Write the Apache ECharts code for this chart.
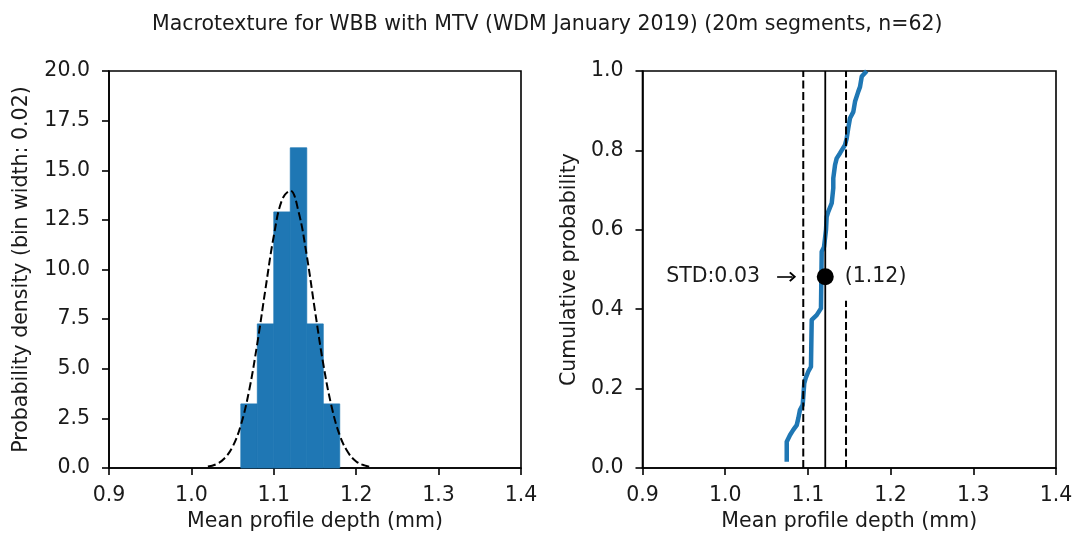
<!DOCTYPE html>
<html>
<head>
<meta charset="utf-8">
<title>Macrotexture</title>
<script src="https://cdn.jsdelivr.net/npm/echarts@6/dist/echarts.min.js"></script>
<style>
  html, body { margin: 0; padding: 0; background: #fff; }
  #chart { width: 1078px; height: 537px; }
</style>
</head>
<body>
<div id="chart"></div>
<script>
// ---- data ----
const binEdges = [1.06, 1.08, 1.10, 1.12, 1.14, 1.16, 1.18];
const density  = [3.23, 7.26, 12.90, 16.13, 7.26, 3.23];

// fitted normal curve (dashed)
const fitX = [1.02, 1.03, 1.04, 1.05, 1.06, 1.07, 1.08, 1.09, 1.10, 1.11, 1.12,
              1.13, 1.14, 1.15, 1.16, 1.17, 1.18, 1.19, 1.20, 1.21, 1.22];
const fitY = [0.07, 0.19, 0.48, 1.07, 2.16, 3.89, 6.28, 9.05, 11.69, 13.51, 13.97,
              12.92, 10.70, 7.92, 5.25, 3.12, 1.65, 0.79, 0.33, 0.13, 0.04];

// empirical CDF vertices
const cdfX = [1.0744, 1.0744, 1.0784, 1.0823, 1.0865, 1.0884, 1.0904, 1.0937, 1.0956,
              1.0973, 1.1005, 1.1037, 1.1046, 1.1106, 1.1158, 1.1167, 1.1195, 1.1219,
              1.1227, 1.1247, 1.1288, 1.1307, 1.1307, 1.1328, 1.1348, 1.1388, 1.1449,
              1.1469, 1.1488, 1.1509, 1.1549, 1.1570, 1.1609, 1.1630, 1.1651, 1.1711];
const cdfY = [0.016, 0.066, 0.083, 0.096, 0.108, 0.125, 0.146, 0.159, 0.213,
              0.226, 0.243, 0.255, 0.373, 0.385, 0.402, 0.545, 0.557, 0.600,
              0.633, 0.646, 0.667, 0.705, 0.730, 0.763, 0.780, 0.793, 0.814,
              0.830, 0.856, 0.881, 0.897, 0.923, 0.948, 0.960, 0.986, 1.000];

const meanVal = 1.121;   // solid line + dot
const stdLo = 1.0944;    // dashed lines (mean -/+ std)
const stdHi = 1.1461;
const dotP = 0.482;
const meanText = "(1.12)";
const stdText = "STD:0.03";
const arrowFrom = 1.0628;
const arrowTo = 1.0815;
const stdTextX = 1.0421;

const BLUE = "#1f77b4";
const TXT = "#1a1a1a";
const FONT = "DejaVu Sans";
const FS = 20.5;

const chart = echarts.init(document.getElementById("chart"), null, { renderer: "canvas" });

function xAxis(gridIndex) {
  return {
    type: "value",
    gridIndex,
    min: 0.9,
    max: 1.4,
    interval: 0.1,
    name: "Mean profile depth (mm)",
    nameLocation: "middle",
    nameGap: 43,
    nameTextStyle: { fontSize: FS, color: TXT, fontFamily: FONT },
    axisLine: { show: true, onZero: false, lineStyle: { color: "#000", width: 1.6 } },
    axisTick: { show: true, length: 7, lineStyle: { color: "#000", width: 1.6 } },
    axisLabel: { fontSize: FS, color: TXT, fontFamily: FONT, margin: 17,
                 formatter: v => v.toFixed(1) },
    splitLine: { show: false }
  };
}

function yAxis(gridIndex, max, step, name, gap) {
  return {
    type: "value",
    gridIndex,
    min: 0,
    max,
    interval: step,
    name,
    nameLocation: "middle",
    nameGap: gap,
    nameTextStyle: { fontSize: FS, color: TXT, fontFamily: FONT },
    axisLine: { show: true, onZero: false, lineStyle: { color: "#000", width: 1.6 } },
    axisTick: { show: true, length: 7, lineStyle: { color: "#000", width: 1.6 } },
    axisLabel: { fontSize: FS, color: TXT, fontFamily: FONT, margin: 19,
                 formatter: v => v.toFixed(1) },
    splitLine: { show: false }
  };
}

const vline = (x, y0, y1, dashed) => ({
  type: "line",
  xAxisIndex: 1,
  yAxisIndex: 1,
  data: [[x, y0], [x, y1]],
  symbol: "none",
  silent: true,
  z: 3,
  lineStyle: { color: "#000", width: dashed ? 2 : 1.8, type: dashed ? [8, 3.5] : "solid" }
});

chart.setOption({
  animation: false,
  backgroundColor: "#fff",
  textStyle: { fontFamily: FONT },
  title: {
    text: "Macrotexture for WBB with MTV (WDM January 2019) (20m segments, n=62)",
    left: 147,
    top: 9,
    textStyle: { fontSize: FS, fontWeight: "normal", color: TXT, fontFamily: FONT }
  },
  grid: [
    { left: 109, top: 71, width: 412, height: 397, show: true,
      borderColor: "#000", borderWidth: 1.6, backgroundColor: "transparent" },
    { left: 642.5, top: 71, width: 413.5, height: 397, show: true,
      borderColor: "#000", borderWidth: 1.6, backgroundColor: "transparent" }
  ],
  xAxis: [xAxis(0), xAxis(1)],
  yAxis: [
    yAxis(0, 20, 2.5, "Probability density (bin width: 0.02)", 77),
    yAxis(1, 1, 0.2, "Cumulative probability", 62)
  ],
  series: [
    {
      name: "hist",
      type: "custom",
      xAxisIndex: 0,
      yAxisIndex: 0,
      data: density.map((d, i) => [binEdges[i], binEdges[i + 1], d]),
      encode: { x: [0, 1], y: 2 },
      renderItem(params, api) {
        const p0 = api.coord([api.value(0), api.value(2)]);
        const p1 = api.coord([api.value(1), 0]);
        return {
          type: "rect",
          shape: { x: p0[0], y: p0[1], width: p1[0] - p0[0], height: p1[1] - p0[1] },
          style: { fill: BLUE, stroke: BLUE, lineWidth: 0.8 }
        };
      },
      z: 2
    },
    {
      name: "fit",
      type: "line",
      xAxisIndex: 0,
      yAxisIndex: 0,
      data: fitX.map((x, i) => [x, fitY[i]]),
      symbol: "none",
      smooth: 0.4,
      z: 3,
      lineStyle: { color: "#000", width: 2, type: [8, 3.5] }
    },
    {
      name: "cdf",
      type: "line",
      xAxisIndex: 1,
      yAxisIndex: 1,
      data: cdfX.map((x, i) => [x, cdfY[i]]),
      symbol: "none",
      z: 2,
      lineStyle: { color: BLUE, width: 4.5, cap: "butt", join: "round" }
    },
    vline(meanVal, 0, 1, false),
    vline(stdLo, 0, 1, true),
    vline(stdHi, 0, 1, true),
    {
      name: "std-label",
      type: "scatter",
      xAxisIndex: 1,
      yAxisIndex: 1,
      data: [[stdTextX, dotP]],
      symbolSize: 0,
      itemStyle: { color: "#000" },
      silent: true,
      z: 5,
      label: {
        show: true,
        position: "left",
        distance: 0,
        formatter: stdText,
        fontSize: FS,
        color: TXT,
        opacity: 1,
        fontFamily: FONT
      },
      markLine: {
        silent: true,
        symbol: ["none", "path://M0,10 L10,0 L20,10 L17.5,12.5 L10,5 L2.5,12.5 Z"],
        symbolSize: [10, 7],
        label: { show: false },
        lineStyle: { color: "#000", width: 1.6, type: "solid" },
        data: [[{ coord: [arrowFrom, dotP] }, { coord: [arrowTo, dotP] }]]
      }
    },
    {
      name: "mean-dot",
      type: "scatter",
      xAxisIndex: 1,
      yAxisIndex: 1,
      data: [[meanVal, dotP]],
      symbolSize: 17,
      itemStyle: { color: "#000", opacity: 1 },
      silent: true,
      z: 6,
      label: {
        show: true,
        position: "right",
        distance: 7,
        formatter: meanText,
        fontSize: FS,
        color: TXT,
        fontFamily: FONT,
        backgroundColor: "#fff",
        padding: [14, 4, 13, 4]
      }
    }
  ]
});

window.addEventListener("resize", () => chart.resize());
</script>
</body>
</html>
